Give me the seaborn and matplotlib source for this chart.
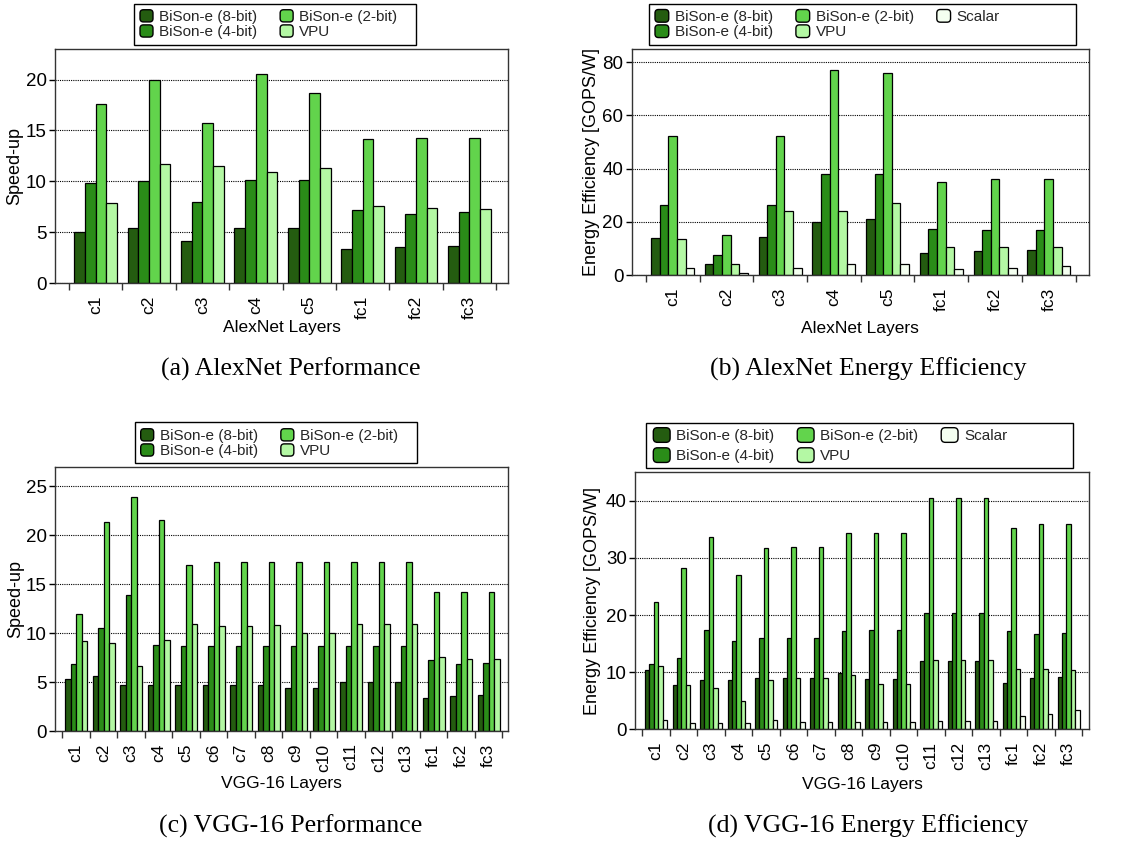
import numpy as np
import pandas as pd
import matplotlib
matplotlib.use("Agg")
import matplotlib.pyplot as plt
import seaborn as sns
from matplotlib.patches import Patch, FancyBboxPatch, Rectangle
from matplotlib.legend_handler import HandlerPatch

# ---------------- data ----------------
configs4 = ["BiSon-e (8-bit)", "BiSon-e (4-bit)", "BiSon-e (2-bit)", "VPU"]
configs5 = ["BiSon-e (8-bit)", "BiSon-e (4-bit)", "BiSon-e (2-bit)", "VPU", "Scalar"]
colors = {"BiSon-e (8-bit)": "#245c10", "BiSon-e (4-bit)": "#2a8c18",
          "BiSon-e (2-bit)": "#62d44c", "VPU": "#b4f8a4", "Scalar": "#f4fff0"}

alex_layers = ["c1", "c2", "c3", "c4", "c5", "fc1", "fc2", "fc3"]
alex_speed_8 = [5.0, 5.45, 4.17, 5.45, 5.45, 3.32, 3.55, 3.68]
alex_speed_4 = [9.82, 10.0, 7.98, 10.08, 10.08, 7.19, 6.83, 6.93]
alex_speed_2 = [17.6, 19.97, 15.7, 20.5, 18.69, 14.19, 14.25, 14.25]
alex_speed_vpu = [7.9, 11.66, 11.46, 10.87, 11.26, 7.55, 7.39, 7.29]

alex_ee_8 = [13.9, 4.26, 14.2, 19.9, 21.2, 8.15, 8.9, 9.28]
alex_ee_4 = [26.5, 7.65, 26.2, 38.0, 38.1, 17.2, 16.8, 17.05]
alex_ee_2 = [52.4, 15.2, 52.2, 77.1, 75.9, 35.1, 36.0, 36.0]
alex_ee_vpu = [13.4, 4.0, 23.9, 24.2, 27.2, 10.4, 10.4, 10.4]
alex_ee_scalar = [2.76, 0.75, 2.76, 4.0, 4.0, 2.38, 2.76, 3.39]

vgg_layers = ["c1", "c2", "c3", "c4", "c5", "c6", "c7", "c8", "c9", "c10",
              "c11", "c12", "c13", "fc1", "fc2", "fc3"]
vgg_speed_8 = [5.3, 5.58, 4.66, 4.66, 4.66, 4.66, 4.66, 4.66, 4.35, 4.35,
               5.0, 5.0, 5.0, 3.33, 3.57, 3.7]
vgg_speed_4 = [6.8, 10.48, 13.88, 8.74, 8.67, 8.7, 8.7, 8.67, 8.7, 8.7,
               8.7, 8.7, 8.7, 7.21, 6.8, 6.9]
vgg_speed_2 = [12.0, 21.36, 23.95, 21.6, 16.94, 17.28, 17.28, 17.28, 17.28, 17.28,
               17.28, 17.28, 17.28, 14.15, 14.18, 14.18]
vgg_speed_vpu = [9.2, 9.0, 6.67, 9.29, 10.92, 10.75, 10.75, 10.85, 9.97, 9.97,
                 10.95, 10.95, 10.95, 7.52, 7.38, 7.31]

vgg_ee_8 = [10.3, 7.76, 8.63, 8.69, 8.98, 9.04, 9.04, 9.8, 8.75, 8.75,
            11.9, 11.9, 11.9, 8.05, 8.92, 9.21]
vgg_ee_4 = [11.37, 12.48, 17.3, 15.45, 15.98, 16.03, 16.03, 17.26, 17.3, 17.3,
            20.35, 20.35, 20.35, 17.2, 16.73, 16.9]
vgg_ee_2 = [22.3, 28.2, 33.6, 27.0, 31.66, 31.95, 31.95, 34.4, 34.4, 34.4,
            40.47, 40.47, 40.47, 35.16, 35.98, 35.98]
vgg_ee_vpu = [11.0, 7.7, 7.17, 4.96, 8.63, 8.92, 8.92, 9.5, 7.93, 7.93,
              12.19, 12.19, 12.19, 10.5, 10.5, 10.32]
vgg_ee_scalar = [1.57, 1.1, 1.1, 1.1, 1.57, 1.22, 1.22, 1.28, 1.28, 1.28,
                 1.5, 1.5, 1.5, 2.33, 2.68, 3.38]

captions = ["(a) AlexNet Performance", "(b) AlexNet Energy Efficiency",
            "(c) VGG-16 Performance", "(d) VGG-16 Energy Efficiency"]

# ---------------- style ----------------
sns.set_theme(style="white")
plt.rcParams["font.family"] = ["Liberation Sans", "DejaVu Sans"]

W, H = 1135, 844
fig = plt.figure(figsize=(W / 100, H / 100), dpi=100)


class RoundBoxHandler(HandlerPatch):
    def create_artists(self, legend, orig_handle, xdescent, ydescent,
                       width, height, fontsize, trans):
        r = 0.28 * min(width, height)
        p = FancyBboxPatch((-xdescent, -ydescent), width, height,
                           boxstyle=f"round,pad=0,rounding_size={r}",
                           facecolor=orig_handle.get_facecolor(),
                           edgecolor="black", linewidth=1.0, transform=trans)
        return [p]


def px_axes(x0, y0, x1, y1):
    return fig.add_axes([x0 / W, 1 - y1 / H, (x1 - x0) / W, (y1 - y0) / H])


def panel(ax, layers, names, series, ylim, yticks, xlim, ylabel, xlabel,
          ylab_x, xlab_y, leg_anchor, leg_box, ncol, hsize, lspace):
    rows = []
    for nm, vals in zip(names, series):
        for lay, v in zip(layers, vals):
            rows.append({"layer": lay, "config": nm, "value": v})
    df = pd.DataFrame(rows)
    sns.barplot(data=df, x="layer", y="value", hue="config", order=layers,
                hue_order=names, palette=colors, saturation=1, width=0.8,
                edgecolor="black", linewidth=0.9, errorbar=None,
                legend=False, ax=ax)
    n = len(layers)
    ax.set_xlim(*xlim)
    ax.set_ylim(*ylim)
    ax.set_yticks(yticks)
    ax.set_axisbelow(True)
    ax.yaxis.grid(True, linestyle=(0, (1, 1)), color="black", linewidth=0.8)
    ax.xaxis.grid(False)
    for s in ax.spines.values():
        s.set_visible(True)
        s.set_color("#333333")
        s.set_linewidth(1.0)
    ax.set_xticks(np.arange(n))
    ax.set_xticklabels(layers)
    ax.set_xticks(np.arange(-0.5, n, 1.0), minor=True)
    ax.tick_params(axis="x", which="major", bottom=True, length=0, pad=9,
                   labelsize=12.5, labelrotation=90, colors="black")
    ax.tick_params(axis="x", which="minor", bottom=True, length=5, width=1,
                   direction="out", color="#333333")
    ax.tick_params(axis="y", which="major", left=True, length=4, width=1,
                   direction="out", pad=2, labelsize=13.5, colors="black")
    ax.set_ylabel(ylabel, fontsize=13, color="black")
    ax.set_xlabel(xlabel, fontsize=12.5, color="black")
    ax.yaxis.set_label_coords(ylab_x, 0.5)
    ax.yaxis.label.set_va("center")
    ax.xaxis.set_label_coords(0.5, xlab_y)
    ax.xaxis.label.set_va("center")

    handles = [Patch(facecolor=colors[nm]) for nm in names]
    ax.legend(handles, names, ncol=ncol, loc="center left",
              bbox_to_anchor=(leg_anchor[0] / W, 1 - leg_anchor[1] / H),
              bbox_transform=fig.transFigure, frameon=False, borderpad=0,
              borderaxespad=0,
              handler_map={Patch: RoundBoxHandler()}, handlelength=hsize,
              handleheight=hsize, handletextpad=0.4, columnspacing=1.5,
              labelspacing=lspace, fontsize=11)
    x0, y0, x1, y1 = leg_box
    fig.add_artist(Rectangle((x0 / W, 1 - y1 / H), (x1 - x0) / W, (y1 - y0) / H,
                             transform=fig.transFigure, fill=False,
                             edgecolor="black", linewidth=1.0))


ax_a = px_axes(55, 49, 508, 283)
panel(ax_a, alex_layers, configs4,
      [alex_speed_8, alex_speed_4, alex_speed_2, alex_speed_vpu],
      (0, 23), [0, 5, 10, 15, 20], (-0.763, 7.725), "Speed-up", "AlexNet Layers",
      -0.088, -0.192, (140, 24.5), (134, 4, 416, 45), 2, 0.85, 0.05)

ax_b = px_axes(631.7, 49, 1089, 275)
panel(ax_b, alex_layers, configs5,
      [alex_ee_8, alex_ee_4, alex_ee_2, alex_ee_vpu, alex_ee_scalar],
      (0, 85), [0, 20, 40, 60, 80], (-0.762, 7.749),
      "Energy Efficiency [GOPS/W]", "AlexNet Layers",
      -0.0875, -0.235, (655, 24.5), (649, 4, 1076, 45), 3, 0.9, 0.05)

ax_c = px_axes(55, 466.7, 508, 731)
panel(ax_c, vgg_layers, configs4,
      [vgg_speed_8, vgg_speed_4, vgg_speed_2, vgg_speed_vpu],
      (0, 27), [0, 5, 10, 15, 20, 25], (-0.765, 15.707), "Speed-up", "VGG-16 Layers",
      -0.087, -0.2, (140.7, 443.5), (135, 421.7, 417, 462.7), 2, 0.85, 0.05)

ax_d = px_axes(635.3, 472.3, 1089, 729.3)
panel(ax_d, vgg_layers, configs5,
      [vgg_ee_8, vgg_ee_4, vgg_ee_2, vgg_ee_vpu, vgg_ee_scalar],
      (0, 45), [0, 10, 20, 30, 40], (-0.755, 15.744),
      "Energy Efficiency [GOPS/W]", "VGG-16 Layers",
      -0.094, -0.213, (653.3, 445.5), (646, 422.7, 1073, 468.3), 3, 1.1, 0.3)

for (cx, cy), txt in zip([(291, 369), (868, 369), (291, 826), (868, 826)], captions):
    fig.text(cx / W, 1 - cy / H, txt, ha="center", va="center",
             family=["Liberation Serif", "DejaVu Serif"], fontsize=18.5,
             color="black")

fig.savefig("out.png", dpi=100)
